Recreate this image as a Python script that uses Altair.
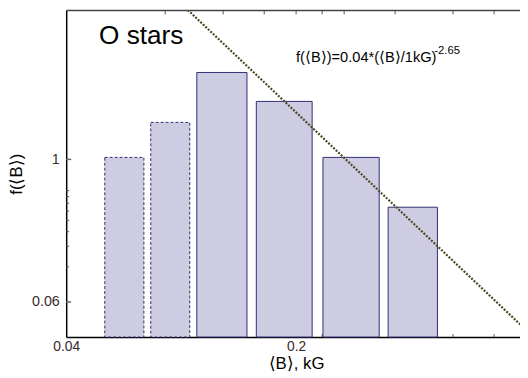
import altair as alt
import pandas as pd

# --- data ---
bin_lo = [0.0524, 0.0723, 0.0998, 0.1514, 0.2414, 0.3809]
bin_hi = [0.0689, 0.0950, 0.1418, 0.2238, 0.3579, 0.538]
freq = [1.04, 2.075, 5.56, 3.14, 1.04, 0.389]
dashed = ["yes", "yes", "no", "no", "no", "no"]

fit_B = [0.0921, 0.9656]
fit_f = [20.0, 0.0379]

x_labels = [0.04, 0.2]
x_minor = [0.08, 0.12, 0.16, 0.2, 0.24, 0.28, 0.4, 0.6, 0.8]
y_labels = [0.06, 1]
y_minor = [0.12, 0.18, 0.24, 0.30, 0.36, 0.42, 0.48, 0.54]

X_DOMAIN = [0.04, 0.959]
Y_DOMAIN = [0.03, 18.9]
W, H = 460, 331
FONT = "Liberation Sans"

bars_df = pd.DataFrame({"lo": bin_lo, "hi": bin_hi, "f": freq, "dashed": dashed})
fit_df = pd.DataFrame({"B": fit_B, "f": fit_f})

xs = alt.Scale(type="log", domain=X_DOMAIN)
ys = alt.Scale(type="log", domain=Y_DOMAIN)

x_axis = alt.Axis(values=x_labels, format="~g", ticks=False, grid=False,
                  domainColor="black", domainWidth=1.5, labelPadding=3,
                  labelFontSize=14, labelColor="#3a2a2a", labelFont=FONT,
                  title="⟨B⟩, kG", titleFontSize=17, titleFont=FONT,
                  titleFontWeight="normal", titleColor="black", titlePadding=2,
                  titleX=233, labelFlush=False)
y_axis = alt.Axis(values=y_labels, format="~g", ticks=False, grid=False,
                  domainColor="black", domainWidth=1.5, labelPadding=7,
                  labelFontSize=14.5, labelColor="#3a2a2a", labelFont=FONT,
                  title="f(⟨B⟩)", titleFontSize=17, titleFont=FONT,
                  titleFontWeight="normal", titleColor="black", titlePadding=6)

# minor ticks (inward)
yt_minor = alt.Chart(pd.DataFrame({"v": y_minor})).mark_rule(color="#555", strokeWidth=1).encode(
    y=alt.Y("v:Q", scale=ys, axis=y_axis), x=alt.value(0), x2=alt.value(3))
yt_major = alt.Chart(pd.DataFrame({"v": y_labels})).mark_rule(color="#666", strokeWidth=1.5).encode(
    y=alt.Y("v:Q", scale=ys), x=alt.value(0), x2=alt.value(5))
xt_bot = alt.Chart(pd.DataFrame({"v": x_minor})).mark_rule(color="#555", strokeWidth=1).encode(
    x=alt.X("v:Q", scale=xs, axis=x_axis), y=alt.value(H), y2=alt.value(H - 3))
xt_top = alt.Chart(pd.DataFrame({"v": x_minor})).mark_rule(color="#555", strokeWidth=1).encode(
    x=alt.X("v:Q", scale=xs), y=alt.value(0), y2=alt.value(4))

bar_base = alt.Chart(bars_df).encode(
    x=alt.X("lo:Q", scale=xs),
    x2="hi:Q",
    y=alt.Y("f:Q", scale=ys),
    y2=alt.datum(Y_DOMAIN[0]),
)
bars_dashed = bar_base.transform_filter(alt.datum.dashed == "yes").mark_rect(
    fill="#cdcce2", stroke="#2e2e72", strokeWidth=1, strokeDash=[3, 2])
bars_solid = bar_base.transform_filter(alt.datum.dashed == "no").mark_rect(
    fill="#cdcce2", stroke="#2e2e72", strokeWidth=1)

fit = alt.Chart(fit_df).mark_line(clip=True, color="#4a4820", strokeWidth=2.2,
                                  strokeDash=[2, 1.5]).encode(
    x=alt.X("B:Q", scale=xs), y=alt.Y("f:Q", scale=ys))

top_border = alt.Chart(pd.DataFrame({"a": [0]})).mark_rule(color="#444", strokeWidth=1.5).encode(
    x=alt.value(0), x2=alt.value(W), y=alt.value(0))

txt = pd.DataFrame({"t": ["O stars"]})
label_o = alt.Chart(txt).mark_text(text="O stars", font=FONT, fontSize=26.5, align="center",
                                   baseline="alphabetic", color="black").encode(
    x=alt.value(76), y=alt.value(34))
label_fit = alt.Chart(txt).mark_text(text="f(⟨B⟩)=0.04*(⟨B⟩/1kG)", font=FONT, fontSize=14.8,
                                     align="left", baseline="alphabetic", color="black").encode(
    x=alt.value(233), y=alt.value(52))
label_exp = alt.Chart(txt).mark_text(text="-2.65", font=FONT, fontSize=11.5, align="left",
                                     baseline="alphabetic", color="black").encode(
    x=alt.value(373), y=alt.value(44))

chart = alt.layer(
    yt_minor, yt_major, xt_bot, xt_top, bars_dashed, bars_solid, fit, top_border,
    label_o, label_fit, label_exp
).properties(
    width=W, height=H,
    autosize=alt.AutoSizeParams(type="none"),
    padding={"left": 59, "top": 0, "right": 0, "bottom": 38},
).configure_view(stroke=None).configure_axis(grid=False)

chart.save("out.html", embed_options={"renderer": "svg", "actions": False})
